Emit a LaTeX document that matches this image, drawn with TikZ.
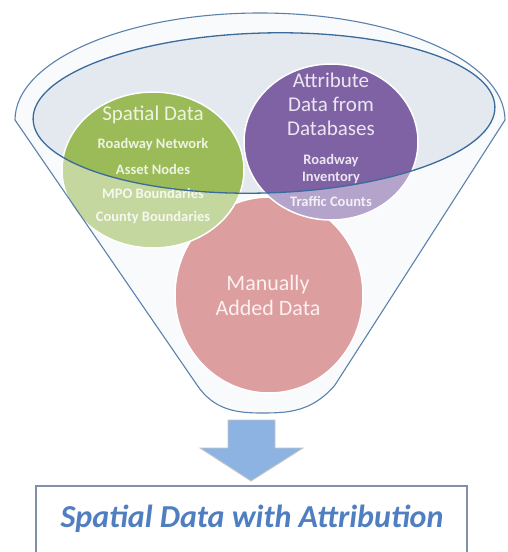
\documentclass[tikz,border=0pt]{standalone}
\usepackage{fontspec}
\setmainfont{Carlito}
\begin{document}
\begin{tikzpicture}[x=1pt,y=-1pt]
\definecolor{fline}{HTML}{5B82AC}
\definecolor{eline}{HTML}{3A6B9C}
\definecolor{ffill}{HTML}{F6F7FA}
\definecolor{efill}{HTML}{E4E8EF}
\definecolor{cgreen}{HTML}{9BBB59}
\definecolor{cpurple}{HTML}{7F62A4}
\definecolor{cred}{HTML}{C4585A}
\definecolor{tgreen}{HTML}{EEF3E2}
\definecolor{tpurple}{HTML}{ECE6F2}
\definecolor{tred}{HTML}{FBE6E6}
\definecolor{afill}{HTML}{8DB3E2}
\definecolor{boxline}{HTML}{7F90A8}
\definecolor{boxtext}{HTML}{4F7FC0}
\tikzset{
  bubble/.style={draw=white, line width=1.5pt},
  bigtxt/.style={align=center, font=\fontsize{21}{24}\selectfont, inner sep=0pt},
  smalltxt/.style={align=center, font=\bfseries\fontsize{14.5}{17}\selectfont, inner sep=0pt},
}
\useasboundingbox (0,0) rectangle (507,552);
\clip (0,0) rectangle (507,552);
\fill[white] (0,0) rectangle (507,552);
\def\funnelpath{(15,120) arc[start angle=180, end angle=360, x radius=245, y radius=107]
  -- (335,385) .. controls (312,412) and (288,413) .. (262,413)
  .. controls (236,413) and (214,410) .. (197,385) -- cycle}
\def\innerpath{[rotate around={1.6:(264,113)}] (264,113) ellipse[x radius=231, y radius=80]}
% funnel body
\fill[ffill] \funnelpath;
\fill[efill] \innerpath;
% bubbles
\fill[cred, bubble] (269,295) ellipse[x radius=94, y radius=98];
\fill[cgreen, bubble] (153,170) ellipse[x radius=91, y radius=78];
\fill[cpurple, bubble] (331,142) ellipse[x radius=87, y radius=78];
% texts
\node[bigtxt, text=tgreen] (sd) at (153,115) {Spatial Data};
\node[smalltxt, text=tgreen] (rn) at (153,145) {Roadway Network};
\node[smalltxt, text=tgreen] (an) at (153,169) {Asset Nodes};
\node[smalltxt, text=tgreen] (mpo) at (153,193) {MPO Boundaries};
\node[smalltxt, text=tgreen] (cb) at (153,218) {County Boundaries};
\node[bigtxt, text=tpurple] (att) at (331,104) {Attribute\\Data from\\Databases};
\node[smalltxt, text=tpurple] (ri) at (331,169) {Roadway\\Inventory};
\node[smalltxt, text=tpurple] (tc) at (331,201) {Traffic Counts};
\node[bigtxt, text=tred, font=\fontsize{22}{25}\selectfont] (mad) at (268,295) {Manually\\Added Data};
% white wash over the lower part of the funnel
\fill[white, fill opacity=0.42, even odd rule] \funnelpath \innerpath;
% outlines
\draw[eline, line width=1.3pt] \innerpath;
\draw[fline, line width=1.1pt, line join=round] \funnelpath;
% arrow
\filldraw[fill=afill, draw=gray!45, line width=0.9pt, line join=miter]
  (228,420) -- (275,420) -- (275,448) -- (303,448) -- (251,481) -- (200,448) -- (228,448) -- cycle;
% result box
\draw[boxline, line width=2pt] (36,486) rectangle (467,580);
\node[font=\bfseries\itshape\fontsize{32}{36}\selectfont, text=boxtext] (res) at (252,519) {Spatial Data with Attribution};
\end{tikzpicture}
\end{document}
